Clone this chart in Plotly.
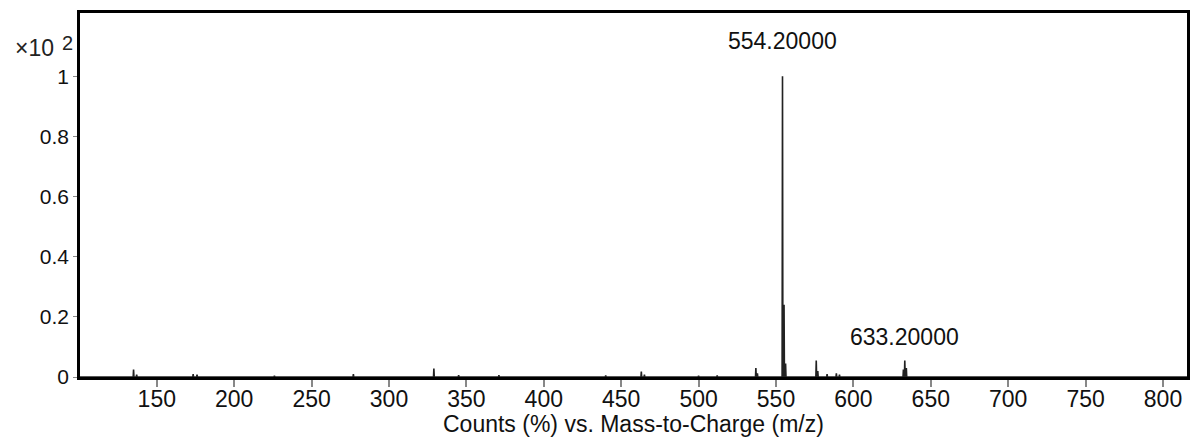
import plotly.graph_objects as go

# Peak list (m/z, relative counts x10^2)
peak_mz = [135.0, 137.0, 173.5, 176.0, 226.0, 277.0, 329.0, 345.0, 371.0,
           440.0, 463.0, 465.0, 500.0, 512.0, 537.0, 538.0,
           554.2, 555.2, 556.2, 576.0, 577.0, 583.0, 589.0, 591.0,
           632.3, 633.2, 634.2]
peak_int = [0.025, 0.008, 0.010, 0.008, 0.004, 0.010, 0.028, 0.006, 0.006,
            0.005, 0.018, 0.008, 0.004, 0.005, 0.030, 0.012,
            1.000, 0.240, 0.045, 0.055, 0.020, 0.010, 0.012, 0.008,
            0.025, 0.055, 0.030]

label_mz = [554.2, 633.2]
label_int = [1.000, 0.055]
label_text = ["554.20000", "633.20000"]
label_shift = [20, 8]

x_ticks = [150, 200, 250, 300, 350, 400, 450, 500, 550, 600, 650, 700, 750, 800]
y_ticks = [0, 0.2, 0.4, 0.6, 0.8, 1.0]
y_tick_text = ["0", "0.2", "0.4", "0.6", "0.8", "1"]

x_range = [100.4, 815.5]
y_range = [0, 1.21]

# build stick-profile trace from peak list
half = 0.25
xs, ys = [x_range[0]], [0]
for m, h in sorted(zip(peak_mz, peak_int)):
    xs += [m - half, m, m + half]
    ys += [0, h, 0]
xs.append(x_range[1])
ys.append(0)

FONT = "Liberation Sans, Arial, sans-serif"

fig = go.Figure()
fig.add_trace(go.Scatter(x=xs, y=ys, mode="lines",
                         line=dict(color="#222", width=1.6),
                         hoverinfo="skip", showlegend=False))

for m, h, t, s in zip(label_mz, label_int, label_text, label_shift):
    fig.add_annotation(x=m, y=h, text=t, showarrow=False, xanchor="center",
                       yanchor="bottom", yshift=s,
                       font=dict(family=FONT, size=23, color="#111"))

# exponent marker
fig.add_annotation(xref="paper", yref="paper", x=-0.0604, y=0.905,
                   text="×10", showarrow=False, xanchor="left",
                   yanchor="middle", font=dict(family=FONT, size=23, color="#222"))
fig.add_annotation(xref="paper", yref="paper", x=-0.0185, y=0.917,
                   text="2", showarrow=False, xanchor="left",
                   yanchor="middle", font=dict(family=FONT, size=20, color="#222"))

fig.add_annotation(xref="paper", yref="paper", x=0.5, y=-0.128,
                   text="Counts (%) vs. Mass-to-Charge (m/z)", showarrow=False,
                   xanchor="center", yanchor="middle",
                   font=dict(family=FONT, size=23, color="#111"))

fig.update_xaxes(range=x_range, tickvals=x_ticks,
                 ticks="outside", ticklen=7, tickwidth=1.5, tickcolor="#888",
                 ticklabelstandoff=-7,
                 showline=True, linewidth=2.5, linecolor="black", mirror=True,
                 showgrid=False, zeroline=False,
                 tickfont=dict(family=FONT, size=23, color="#111"))
fig.update_yaxes(range=y_range, tickvals=y_ticks, ticktext=y_tick_text,
                 ticks="outside", ticklen=4, tickwidth=1.2, tickcolor="#888",
                 showline=True, linewidth=2.5, linecolor="black", mirror=True,
                 showgrid=False, zeroline=False,
                 tickfont=dict(family=FONT, size=21, color="#111"))

fig.update_layout(width=1192, height=439,
                  margin=dict(l=80, r=2, t=13, b=62),
                  paper_bgcolor="white", plot_bgcolor="white",
                  showlegend=False)

fig.write_html("out.html", config={"displayModeBar": False},
               post_script="document.body.style.margin='0';document.body.style.overflow='hidden';")
